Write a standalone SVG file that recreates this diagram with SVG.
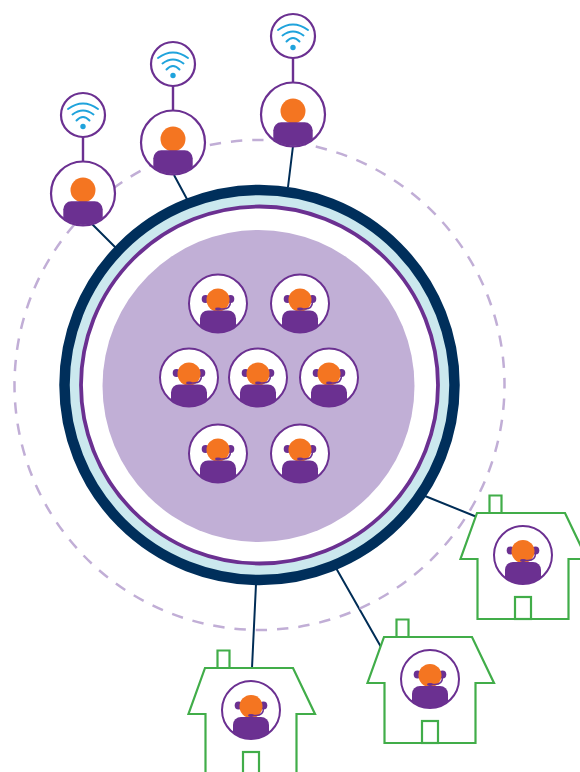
<svg xmlns="http://www.w3.org/2000/svg" width="580" height="772" viewBox="0 0 580 772">
<style>
.pc{fill:#fff;stroke:#6b3091;stroke-width:2}
.pu{fill:#fff;stroke:#6b3091;stroke-width:2.200}
.head{fill:#f47521}
.body{fill:#6b3091}
.link{stroke:#002d56;stroke-width:2;fill:none}
.stem{stroke:#6b3091;stroke-width:2.400;fill:none}
.wifi{fill:none;stroke:#1fa3dc;stroke-width:2;stroke-linecap:round}
.house{fill:#fff;stroke:#41ad49;stroke-width:2.200}
</style>
<defs>
<clipPath id="c29"><circle r="29"/></clipPath>
<clipPath id="c32"><circle r="31.5"/></clipPath>
<g id="agent">
<circle class="pc" r="29"/>
<ellipse class="body" cx="-12.500" cy="-4.500" rx="3.800" ry="4"/>
<ellipse class="body" cx="12.500" cy="-4.500" rx="3.800" ry="4"/>
<circle class="head" cy="-3.500" r="11.500"/>
<path d="M12.500 -2 Q12.500 5.500 5 5.500 L0 5.500" fill="none" stroke="#6b3091" stroke-width="1.500"/>
<ellipse class="body" cx="0" cy="5.500" rx="3" ry="1.400"/>
<g clip-path="url(#c29)"><rect class="body" x="-18" y="7" width="36" height="40" rx="8"/></g>
</g>
<g id="user">
<circle class="pu" r="32"/>
<circle class="head" cy="-3.500" r="12.500"/>
<g clip-path="url(#c32)"><rect class="body" x="-19.700" y="7.800" width="39.400" height="40" rx="8"/></g>
</g>
<g id="wifi">
<circle class="pu" r="22"/>
<circle cy="11.500" r="2.700" fill="#1fa3dc"/>
<path class="wifi" d="M-15 -6 Q0 -17 15 -6 M-10.500 -0.500 Q0 -8.500 10.500 -0.500 M-6.500 5.500 Q0 -1.500 6.500 5.500"/>
</g>
<g id="housebody">
<path class="house" d="M489.500 513V495.500H501.500V513"/>
<path class="house" d="M477 513H565L587 559H568.500V619H477.500V559H460.500Z"/>
<rect class="house" x="515" y="597" width="16" height="22"/>
</g>
</defs>
<g id="connectors">
<path class="link" d="M92 224L116 248M174 175L188 201M293 146L288 187M425 496L477 517M336 568L381 647M256 584L252 668"/>
<path class="stem" d="M83 137V162M173 86V111M293 58V83"/>
</g>
<g id="boundary"><circle cx="259.500" cy="385" r="245" fill="none" stroke="#c1aed6" stroke-width="2.500" stroke-dasharray="11.400 9.980" stroke-dashoffset="-13.600"/></g>
<g id="hub">
<circle cx="259.500" cy="385" r="195" fill="#cbe8ee" stroke="#002f5b" stroke-width="10.500"/>
<circle cx="259.500" cy="385" r="178.500" fill="#fff" stroke="#6b3091" stroke-width="3.800"/>
<circle cx="258.500" cy="386" r="156" fill="#c1afd6"/>
</g>
<g id="agent1"><use href="#agent" x="218" y="303.500"/></g>
<g id="agent2"><use href="#agent" x="300" y="303.500"/></g>
<g id="agent3"><use href="#agent" x="189" y="377.500"/></g>
<g id="agent4"><use href="#agent" x="258" y="377.500"/></g>
<g id="agent5"><use href="#agent" x="329" y="377.500"/></g>
<g id="agent6"><use href="#agent" x="218" y="453.500"/></g>
<g id="agent7"><use href="#agent" x="300" y="453.500"/></g>
<g id="user1"><use href="#user" x="83" y="193.500"/><use href="#wifi" x="83" y="115"/></g>
<g id="user2"><use href="#user" x="173" y="142.500"/><use href="#wifi" x="173" y="64"/></g>
<g id="user3"><use href="#user" x="293" y="114.500"/><use href="#wifi" x="293" y="36"/></g>
<g id="house1"><use href="#housebody"/><use href="#agent" x="523" y="555"/></g>
<g id="house2"><use href="#housebody" x="-93" y="124"/><use href="#agent" x="430" y="679"/></g>
<g id="house3"><use href="#housebody" x="-272" y="155"/><use href="#agent" x="251" y="710"/></g>
</svg>
